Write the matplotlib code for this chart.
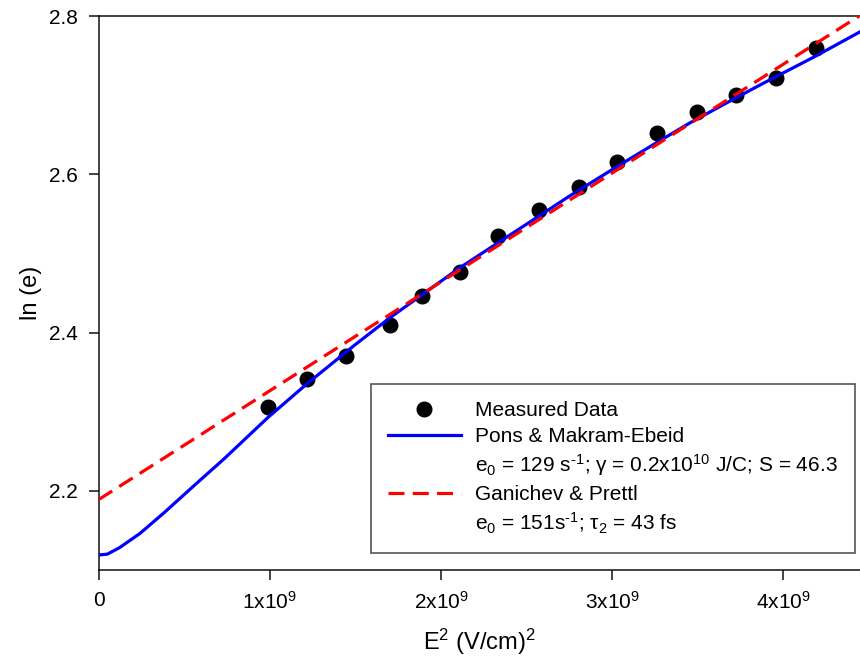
import matplotlib
matplotlib.use("Agg")
import matplotlib.pyplot as plt
from matplotlib.lines import Line2D

plt.rcParams['font.family'] = ['Liberation Sans', 'DejaVu Sans']
plt.rcParams['mathtext.fontset'] = 'custom'
plt.rcParams['mathtext.rm'] = 'Liberation Sans'
plt.rcParams['mathtext.it'] = 'Liberation Sans:italic'
plt.rcParams['mathtext.bf'] = 'Liberation Sans:bold'
plt.rcParams['mathtext.default'] = 'regular'

# ---- data (x in (V/cm)^2) ----
meas_x = [0.991e9, 1.218e9, 1.444e9, 1.703e9, 1.890e9, 2.112e9, 2.332e9, 2.572e9,
          2.804e9, 3.026e9, 3.261e9, 3.493e9, 3.723e9, 3.954e9, 4.190e9]
meas_y = [2.3065, 2.341, 2.371, 2.409, 2.446, 2.476, 2.5225, 2.555,
          2.584, 2.615, 2.6526, 2.679, 2.700, 2.722, 2.760]

pons_x = [0.0, 0.05e9, 0.12e9, 0.24e9, 0.38e9, 0.564e9, 0.73e9, 0.99e9, 1.215e9,
          1.50e9, 1.703e9, 2.11e9, 2.45e9, 2.754e9, 3.00e9, 3.259e9, 3.454e9,
          3.70e9, 3.882e9, 4.194e9, 4.447e9, 4.5e9]
pons_y = [2.119, 2.120, 2.128, 2.146, 2.172, 2.208, 2.240, 2.293, 2.335,
          2.385, 2.419, 2.482, 2.530, 2.573, 2.606, 2.640, 2.665,
          2.694, 2.715, 2.750, 2.780, 2.786]

gan_x = [0.0, 4.5e9]
gan_y = [2.189, 2.808]

xticks = [0, 1e9, 2e9, 3e9, 4e9]
xtick_labels = ['0', '1x10$^9$', '2x10$^9$', '3x10$^9$', '4x10$^9$']
yticks = [2.2, 2.4, 2.6, 2.8]
ytick_labels = ['2.2', '2.4', '2.6', '2.8']

labels = ['Measured Data',
          'Pons & Makram-Ebeid',
          'e$_0$ = 129 s$^{\u20101}$; γ = 0.2x10$^{10}$ J/C; S = 46.3',
          'Ganichev & Prettl',
          'e$_0$ = 151s$^{\u20101}$; τ$_2$ = 43 fs']

fig = plt.figure(figsize=(8.6, 6.61), dpi=100)
ax = fig.add_axes([98.7/860, 1 - 570/661, 1 - 98.7/860, (570 - 16)/661])

ax.plot(meas_x, meas_y, 'o', color='black', markersize=10.5, zorder=2)
ax.plot(pons_x, pons_y, '-', color='#0000ff', lw=2.3, zorder=3)
ax.plot(gan_x, gan_y, color='#ff0000', lw=2.3, dashes=(5, 2.6), zorder=4)

ax.set_xlim(0, 4.447e9)
ax.set_ylim(2.1, 2.8)
ax.set_xticks(xticks)
ax.set_xticklabels(xtick_labels)
ax.set_yticks(yticks)
ax.set_yticklabels(ytick_labels)
ax.tick_params(direction='out', length=7, width=1.1, labelsize=15, pad=8, color='#111111')

ax.spines['right'].set_visible(False)
for s in ['left', 'bottom', 'top']:
    ax.spines[s].set_linewidth(1.1)
    ax.spines[s].set_color('#111111')

ax.set_xlabel('E$^2$ (V/cm)$^2$', fontsize=17, labelpad=10)
ax.set_ylabel('ln (e)', fontsize=17, labelpad=5)

handles = [Line2D([], [], ls='none', marker='o', color='black', markersize=10.5),
           Line2D([], [], color='#0000ff', lw=2.3),
           Line2D([], [], ls='none'),
           Line2D([], [], color='#ff0000', lw=2.3, dashes=(5, 2.6)),
           Line2D([], [], ls='none')]
leg = ax.legend(handles, labels, loc='lower right',
                bbox_to_anchor=(855/860, 1 - 553/661), bbox_transform=fig.transFigure,
                borderaxespad=0, fontsize=15, handlelength=3.5, handletextpad=0.7,
                labelspacing=0.32, borderpad=0.82, fancybox=False, framealpha=1,
                edgecolor='#555555', numpoints=1)
leg.get_frame().set_linewidth(1.2)

fig.savefig('out.png', dpi=100)
